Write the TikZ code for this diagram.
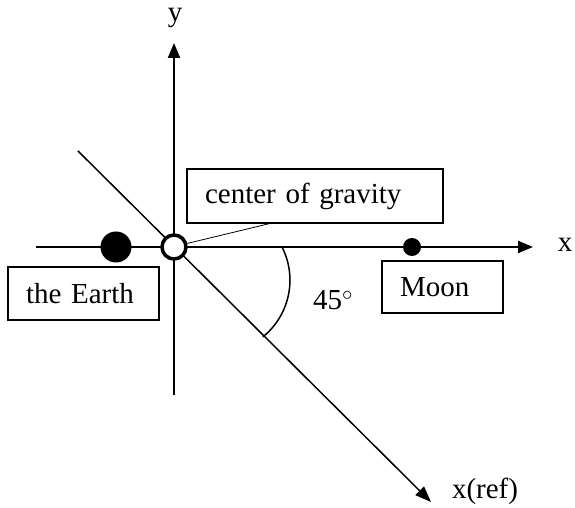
\documentclass[tikz,border=0pt]{standalone}
\usepackage{fontspec}
\setmainfont{Liberation Serif}
\usetikzlibrary{arrows.meta}
\begin{document}
\begin{tikzpicture}[x=1pt,y=1pt,
  lbl/.style={font=\fontsize{29}{32}\selectfont, inner sep=0pt},
  boxed/.style={draw, line width=1.8pt, text width=#1, align=left, inner xsep=18pt, inner ysep=0pt, font=\fontsize{29}{32}\selectfont},
  axis/.style={line width=2pt, -{Triangle[length=15pt,width=12pt]}},
  refaxis/.style={line width=1.5pt, -{Triangle[length=16pt,width=12pt]}}]
\useasboundingbox (0,0) rectangle (575,508);
% coordinates
\coordinate (xs) at (36,261);
\coordinate (xe) at (533,261);
\coordinate (ys) at (174,113);
\coordinate (ye) at (174,465);
\coordinate (ds) at (78,357);
\coordinate (de) at (431,6);
% axes
\draw[axis] (xs) -- (xe);
\draw[axis] (ys) -- (ye);
\draw[refaxis] (ds) -- (de);
% angle arc
\coordinate (arcs) at (282,261);
\draw[line width=1.5pt] (arcs) arc[start angle=27, end angle=-51, radius=73];
% bodies
\node[circle, fill=black, minimum size=31pt, inner sep=0pt] (earth) at (116,261) {};
\node[circle, fill=black, minimum size=18pt, inner sep=0pt] (moon) at (412,261) {};
\node[circle, draw, fill=white, line width=3.5pt, minimum size=24pt, inner sep=0pt] (cg) at (174,261) {};
% boxes
\node[boxed=220pt, minimum height=54pt] (cgbox) at (315,312) {center of gravity};
\node[boxed=115pt, minimum height=53pt] (earthbox) at (83.5,214.5) {the Earth};
\node[boxed=85pt, minimum height=52pt] (moonbox) at (442.5,221) {Moon};
% leader
\coordinate (lead) at (272,285);
\draw[line width=0.8pt] (cg.15) -- (lead);
% labels
\node[lbl] (xl) at (565,263) {x};
\node[lbl] (yl) at (175,490) {y};
\node[lbl] (xr) at (485,17) {x(ref)};
\node[lbl] (ang) at (333,208) {45$^\circ$};
\end{tikzpicture}
\end{document}
